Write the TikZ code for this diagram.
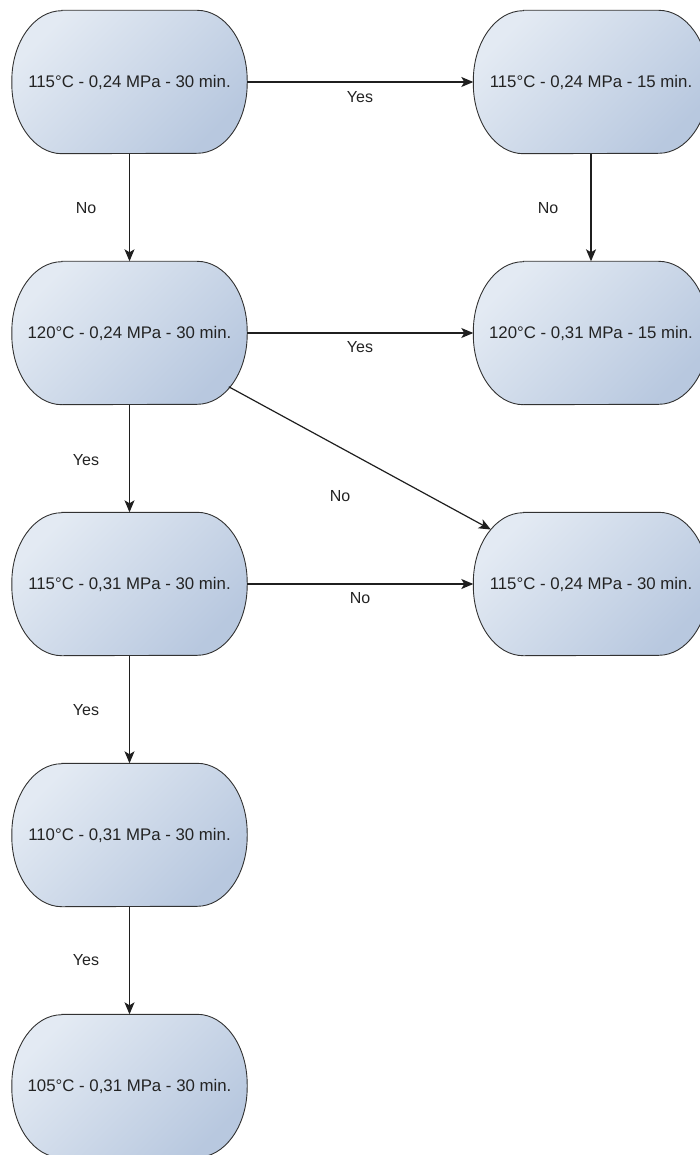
\documentclass[tikz,border=0pt]{standalone}
\usepackage{fontspec}
\setmainfont{Liberation Sans}
\usetikzlibrary{arrows.meta,backgrounds}
\definecolor{boxlight}{RGB}{227,234,243}
\definecolor{boxdark}{RGB}{184,200,223}
\definecolor{boxline}{RGB}{50,50,50}
\definecolor{txt}{RGB}{35,35,35}

\begin{document}
\begin{tikzpicture}[x=1pt,y=-1pt,
  state/.style={minimum width=235pt, minimum height=143pt, inner sep=0pt,
    font=\fontsize{16.8}{20}\selectfont, text=txt},
  boxshape/.style={draw=boxline, line width=0.9pt,
    top color=boxlight, bottom color=boxdark, shading angle=45},
  flow/.style={-{Stealth[length=12pt,width=10pt,inset=3pt]}, line width=1.2pt, draw=black!88},
  lbl/.style={font=\fontsize{16}{19}\selectfont, text=txt}]
  \useasboundingbox (0,0) rectangle (700,1155);
  \node[state] (a1) at (129.5,82) {115°C - 0,24 MPa - 30 min.};
  \node[state] (b1) at (591,82) {115°C - 0,24 MPa - 15 min.};
  \node[state] (a2) at (129.5,333) {120°C - 0,24 MPa - 30 min.};
  \node[state] (b2) at (591,333) {120°C - 0,31 MPa - 15 min.};
  \node[state] (a3) at (129.5,584) {115°C - 0,31 MPa - 30 min.};
  \node[state] (b3) at (591,584) {115°C - 0,24 MPa - 30 min.};
  \node[state] (a4) at (129.5,835) {110°C - 0,31 MPa - 30 min.};
  \node[state] (a5) at (129.5,1086) {105°C - 0,31 MPa - 30 min.};
  \begin{scope}[on background layer]
    \foreach \n in {a1, b1, a2, b2, a3, b3, a4, a5}
      {\draw[boxshape] ([xshift=50pt]\n.north west) -- ([xshift=-50pt]\n.north east)
         arc[start angle=-90, end angle=0, x radius=50, y radius=70] -- ++(0,3)
         arc[start angle=0, end angle=90, x radius=50, y radius=70]
         -- ([xshift=50pt]\n.south west)
         arc[start angle=90, end angle=180, x radius=50, y radius=70] -- ++(0,-3)
         arc[start angle=180, end angle=270, x radius=50, y radius=70] -- cycle;}
  \end{scope}
  \foreach \s/\t in {a1/b1, a2/b2, a3/b3, a1/a2, b1/b2, a2/a3, a3/a4, a4/a5}
    {\draw[flow] (\s) -- (\t);}
  \draw[flow, shorten <=-21pt, shorten >=-20pt] (a2) -- (b3);
  \foreach \p/\q/\t [count=\i] in {86/208/No, 360/97/Yes, 548/208/No,
      360/347/Yes, 86/460/Yes, 340/496/No, 360/598/No, 86/710/Yes, 86/960/Yes}
    {\node[lbl] (lab\i) at (\p,\q) {\t};}
\end{tikzpicture}
\end{document}
